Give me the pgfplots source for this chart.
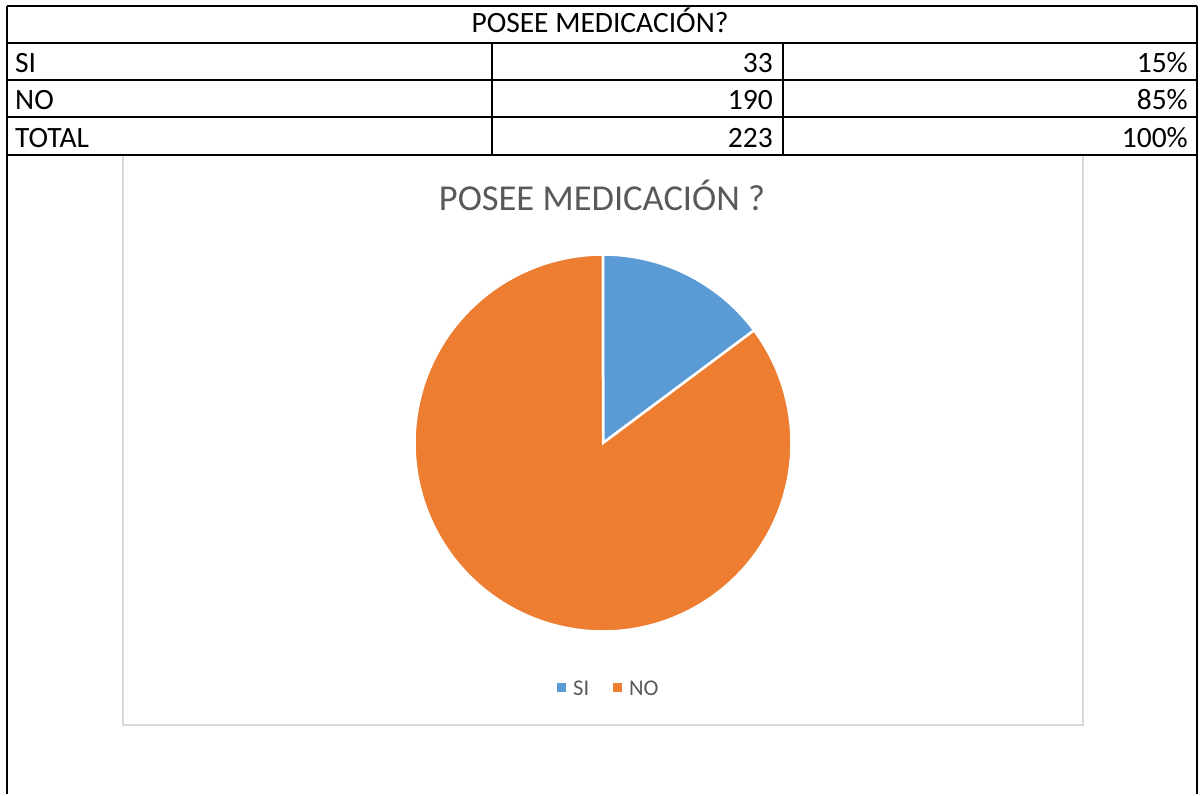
\documentclass[border=0pt]{standalone}
\usepackage{pgfplots}
\pgfplotsset{compat=1.18}
\usepackage{fontspec}
\setmainfont{Carlito}
\definecolor{siblue}{HTML}{5B9BD5}
\definecolor{noorange}{HTML}{ED7D31}
\definecolor{txtgray}{HTML}{595959}
\definecolor{boxgray}{HTML}{D9D9D9}
% data
\def\valSI{33}
\def\valNO{190}
\begin{document}
\begin{tikzpicture}
\pgfmathsetmacro{\tot}{\valSI+\valNO}
\pgfmathsetmacro{\angSI}{90-\valSI/\tot*360}
\pgfmathsetmacro{\angNO}{\angSI-\valNO/\tot*360}
\begin{axis}[
  width=1200bp, height=794bp, scale only axis,
  xmin=0, xmax=1200, ymin=0, ymax=794, y dir=reverse,
  hide axis, clip=false,
]
\path (axis cs:0,0) rectangle (axis cs:1200,794);
% chart box
\draw[boxgray, line width=1.5bp] (axis cs:123,155) rectangle (axis cs:1083,725);
% table grid
\draw[black, line width=2.5bp] (axis cs:7,6) -- (axis cs:1197,6);
\foreach \yy in {43,80,117,155}{
  \edef\tmp{\noexpand\draw[black, line width=2.5bp] (axis cs:7,\yy) -- (axis cs:1197,\yy);}\tmp
}
\draw[black, line width=2.5bp] (axis cs:7,6) -- (axis cs:7,794);
\draw[black, line width=2.5bp] (axis cs:1197,6) -- (axis cs:1197,794);
\draw[black, line width=2.5bp] (axis cs:492,43) -- (axis cs:492,155);
\draw[black, line width=2.5bp] (axis cs:783,43) -- (axis cs:783,155);
% table text
\node[anchor=base, inner sep=0pt, font=\fontsize{29.5bp}{34bp}\selectfont] at (axis cs:600,33) {POSEE MEDICACIÓN?};
\node[anchor=base west, inner sep=0pt, font=\fontsize{29.5bp}{34bp}\selectfont] at (axis cs:15,73) {SI};
\node[anchor=base west, inner sep=0pt, font=\fontsize{29.5bp}{34bp}\selectfont] at (axis cs:15,110) {NO};
\node[anchor=base west, inner sep=0pt, font=\fontsize{29.5bp}{34bp}\selectfont] at (axis cs:15,147) {TOTAL};
\node[anchor=base east, inner sep=0pt, font=\fontsize{29.5bp}{34bp}\selectfont] at (axis cs:773,73) {33};
\node[anchor=base east, inner sep=0pt, font=\fontsize{29.5bp}{34bp}\selectfont] at (axis cs:773,110) {190};
\node[anchor=base east, inner sep=0pt, font=\fontsize{29.5bp}{34bp}\selectfont] at (axis cs:773,147) {223};
\node[anchor=base east, inner sep=0pt, font=\fontsize{29.5bp}{34bp}\selectfont] at (axis cs:1188,73) {15\%};
\node[anchor=base east, inner sep=0pt, font=\fontsize{29.5bp}{34bp}\selectfont] at (axis cs:1188,110) {85\%};
\node[anchor=base east, inner sep=0pt, font=\fontsize{29.5bp}{34bp}\selectfont] at (axis cs:1188,147) {100\%};
% chart title
\node[anchor=base, inner sep=0pt, text=txtgray, font=\fontsize{36.5bp}{42bp}\selectfont] at (axis cs:602,210) {POSEE MEDICACIÓN ?};
% pie slices
\addplot[fill=siblue, draw=white, line width=2.5bp, domain=\angSI:90, samples=80]
  ({603+188.5*cos(x)},{443-188.5*sin(x)}) -- (axis cs:603,443) -- cycle;
\addplot[fill=noorange, draw=white, line width=2.5bp, domain=\angNO:\angSI, samples=200]
  ({603+188.5*cos(x)},{443-188.5*sin(x)}) -- (axis cs:603,443) -- cycle;
% legend
\fill[siblue] (axis cs:556.5,682.5) rectangle (axis cs:565.5,691.5);
\node[anchor=base west, inner sep=0pt, text=txtgray, font=\fontsize{22.5bp}{26bp}\selectfont] at (axis cs:573,695) {SI};
\fill[noorange] (axis cs:612.5,682.5) rectangle (axis cs:621.5,691.5);
\node[anchor=base west, inner sep=0pt, text=txtgray, font=\fontsize{22.5bp}{26bp}\selectfont] at (axis cs:629,695) {NO};
\end{axis}
\end{tikzpicture}
\end{document}
